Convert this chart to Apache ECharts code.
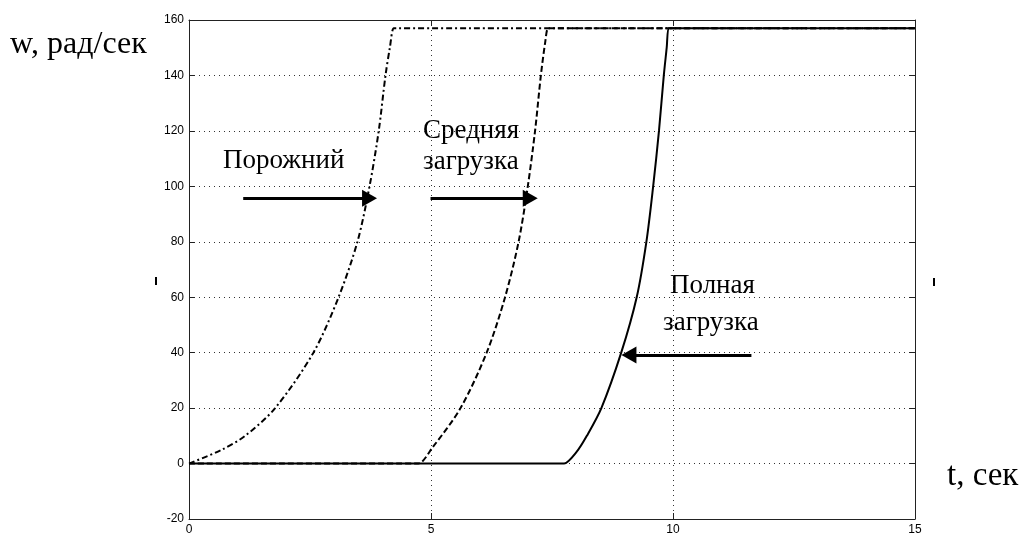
<!DOCTYPE html>
<html><head><meta charset="utf-8">
<script src="https://cdn.jsdelivr.net/npm/echarts@6/dist/echarts.min.js"></script>
<style>html,body{margin:0;padding:0;background:#fff}#c{width:1021px;height:536px}</style>
</head><body><div id="c"></div>
<script>
// tick labels
const xTicks = [0, 5, 10, 15];
const yTicks = [-20, 0, 20, 40, 60, 80, 100, 120, 140, 160];

// Порожний (dash-dot)
const tIdle = [0, 0.68, 1.16, 1.78, 2.57, 3.09, 3.48, 3.73, 3.92, 4.06, 4.15, 4.23, 4.3, 15];
const wIdle = [0, 5, 10, 20, 40, 60, 80, 100, 120, 140, 150, 157, 157, 157];

// Средняя загрузка (dashed)
const tMid = [0, 4.7, 4.74, 5.04, 5.61, 6.15, 6.53, 6.81, 7.0, 7.15, 7.27, 7.36, 7.42, 7.5, 15];
const wMid = [0, 0, 0, 6, 20, 40, 60, 80, 100, 120, 140, 152, 157, 157, 157];

// Полная загрузка (solid)
const tFull = [0, 7.7, 7.75, 8.0, 8.22, 8.52, 8.93, 9.25, 9.45, 9.59, 9.71, 9.81, 9.87, 9.91, 9.98, 15];
const wFull = [0, 0, 0, 4, 10, 20, 40, 60, 80, 100, 120, 140, 150, 157, 157, 157];

// annotation arrows: [tStart, wStart, tHead, wHead]
const arrowIdle = [1.12, 95.7, 3.73, 95.7];
const arrowMid = [4.99, 95.7, 7.05, 95.7];
const arrowFull = [11.62, 39.2, 9.09, 39.2];

const zip = (a, b) => a.map((v, i) => [v, b[i]]);
const serif = "'Liberation Serif','Times New Roman',serif";
const sans = "'Liberation Sans',Arial,sans-serif";

const chart = echarts.init(document.getElementById('c'), null, {renderer: 'canvas'});

function arrowLine(a) {
  return [{coord: [a[0], a[1]]}, {coord: [a[2], a[3]]}];
}

const axisCommon = {
  type: 'value',
  axisLine: {show: true, onZero: false, lineStyle: {color: '#222', width: 1}},
  axisTick: {show: true, inside: true, length: 6, lineStyle: {color: '#222', width: 1}}
};

function mk(a) {
  return {
    silent: true, symbol: ['none', 'triangle'], symbolSize: [17, 15],
    label: {show: false},
    itemStyle: {color: '#000'},
    lineStyle: {color: '#000', width: 3, type: 'solid'},
    data: [arrowLine(a)]
  };
}

const option = {
  animation: false,
  backgroundColor: '#fff',
  grid: {left: 189, right: 106, top: 20, bottom: 16, containLabel: false},
  xAxis: [
    Object.assign({}, axisCommon, {
      position: 'bottom',
      min: xTicks[0], max: xTicks[xTicks.length - 1], interval: xTicks[1] - xTicks[0],
      axisLabel: {show: true, color: '#000', fontSize: 12, fontFamily: sans, margin: 5},
      splitLine: {show: true, lineStyle: {color: '#333', width: 1, type: [1, 4]}}
    }),
    Object.assign({}, axisCommon, {
      position: 'top',
      min: xTicks[0], max: xTicks[xTicks.length - 1], interval: xTicks[1] - xTicks[0],
      axisLabel: {show: false}, splitLine: {show: false}
    })
  ],
  yAxis: [
    Object.assign({}, axisCommon, {
      position: 'left',
      min: yTicks[0], max: yTicks[yTicks.length - 1], interval: yTicks[1] - yTicks[0],
      axisLabel: {show: true, color: '#000', fontSize: 12, fontFamily: sans, margin: 5},
      splitLine: {show: true, lineStyle: {color: '#333', width: 1, type: [1, 4]}}
    }),
    Object.assign({}, axisCommon, {
      position: 'right',
      min: yTicks[0], max: yTicks[yTicks.length - 1], interval: yTicks[1] - yTicks[0],
      axisLabel: {show: false}, splitLine: {show: false}
    })
  ],
  series: [
    {
      name: 'Полная загрузка', type: 'line', data: zip(tFull, wFull),
      showSymbol: false, smooth: 0.3,
      lineStyle: {color: '#000', width: 2, type: 'solid'}, z: 3,
      markLine: mk(arrowFull)
    },
    {
      name: 'Средняя загрузка', type: 'line', data: zip(tMid, wMid),
      showSymbol: false, smooth: 0.3,
      lineStyle: {color: '#000', width: 2, type: [6, 3]}, z: 4,
      markLine: mk(arrowMid)
    },
    {
      name: 'Порожний', type: 'line', data: zip(tIdle, wIdle),
      showSymbol: false, smooth: 0.3,
      lineStyle: {color: '#000', width: 2, type: [6, 3, 2, 3]}, z: 5,
      markLine: mk(arrowIdle)
    }
  ],
  graphic: [
    {type: 'text', left: 10, top: 29, style: {text: 'w, рад/сек', font: '32px ' + serif, fill: '#000'}},
    {type: 'text', left: 947, top: 460, style: {text: 't, сек', font: '33px ' + serif, fill: '#000'}},
    {type: 'text', left: 223, top: 147, style: {text: 'Порожний', font: '27px ' + serif, fill: '#000'}},
    {type: 'text', left: 423, top: 117, style: {text: 'Средняя', font: '27px ' + serif, fill: '#000'}},
    {type: 'text', left: 423, top: 148, style: {text: 'загрузка', font: '27px ' + serif, fill: '#000'}},
    {type: 'text', left: 670, top: 272, style: {text: 'Полная', font: '27px ' + serif, fill: '#000'}},
    {type: 'text', left: 663, top: 309, style: {text: 'загрузка', font: '27px ' + serif, fill: '#000'}},
    {type: 'rect', left: 155, top: 277, shape: {width: 2, height: 8}, style: {fill: '#000'}},
    {type: 'rect', left: 933, top: 278, shape: {width: 2, height: 8}, style: {fill: '#000'}}
  ]
};
chart.setOption(option);
</script>
</body></html>
